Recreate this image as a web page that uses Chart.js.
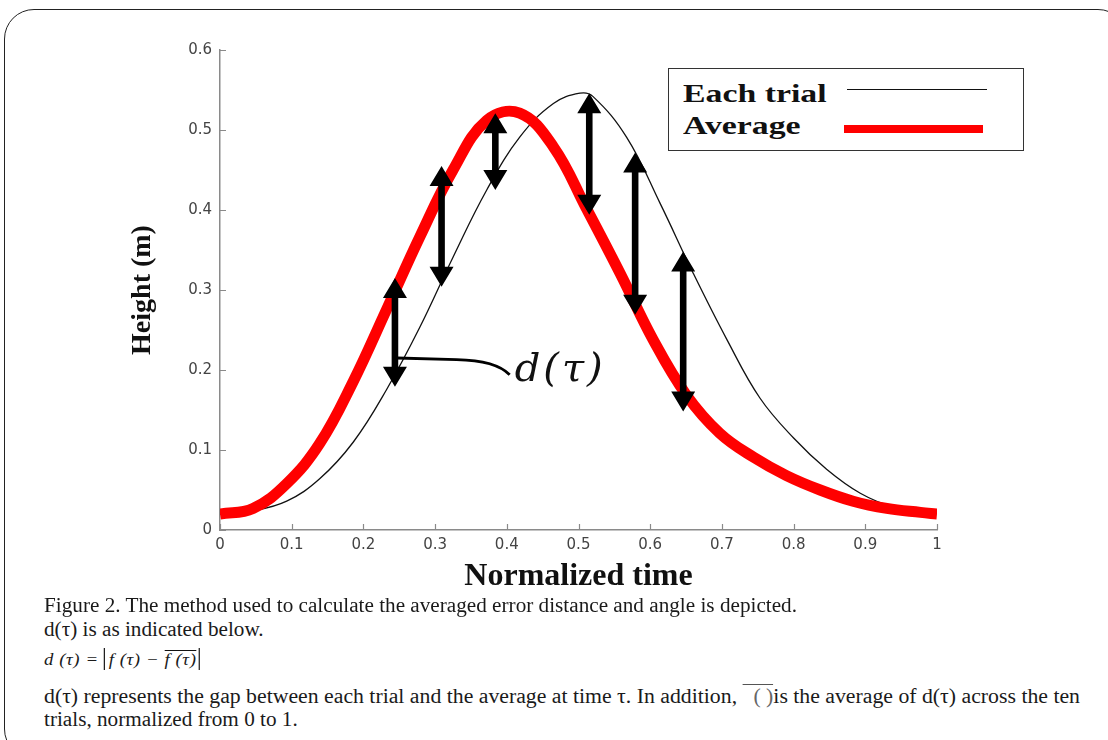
<!DOCTYPE html>
<html>
<head>
<meta charset="utf-8">
<script src="https://cdn.jsdelivr.net/npm/chart.js@4.4.1/dist/chart.umd.min.js"></script>
<style>
html,body{margin:0;padding:0;background:#fff;}
body{width:1108px;height:740px;position:relative;overflow:hidden;font-family:"Liberation Serif",serif;color:#1a1a1a;}
#frame{position:absolute;left:4px;top:9px;width:1124px;height:750px;border:1.4px solid #222;border-radius:30px;box-sizing:border-box;}
#chart{position:absolute;left:0;top:0;}
#legend{position:absolute;left:668px;top:68px;width:356px;height:83px;border:1.5px solid #333;box-sizing:border-box;background:#fff;}
.lg-text{position:absolute;left:14px;font:bold 26px "Liberation Serif",serif;line-height:26px;transform:scaleX(1.3);transform-origin:left center;white-space:nowrap;color:#111;}
.lg-line{position:absolute;}
.cap{position:absolute;left:44px;font-size:20px;line-height:20px;white-space:nowrap;transform-origin:left center;}
.abs{border-left:1.3px solid #111;border-right:1.3px solid #111;padding:3px 2px 2px 3px;}
.ovl{border-top:1px solid #111;}
.ovl2{border-top:1.3px solid #555;color:#666;}
</style>
</head>
<body>
<div id="frame"></div>
<canvas id="chart" width="1108" height="600"></canvas>
<div id="legend"></div>

<div class="cap" data-w="753" style="top:595px">Figure 2. The method used to calculate the averaged error distance and angle is depicted.</div>
<div class="cap" style="top:619px">d(τ) is as indicated below.</div>
<div class="cap" data-w="156" style="top:650px;font-size:16px;font-style:italic;letter-spacing:0.5px">d (τ) = <span class="abs">f (τ) − <span class="ovl">f (τ)</span></span></div>
<div class="cap" data-w="1036" style="top:686px">d(τ) represents the gap between each trial and the average at time τ. In addition, <span class="ovl2">&nbsp;&nbsp;(&nbsp;)</span>is the average of d(τ) across the ten</div>
<div class="cap" style="top:709px">trials, normalized from 0 to 1.</div>

<script>
// 数据：横轴为归一化时间，纵轴为高度 (m)
const avgX   = [0, 0.046, 0.093, 0.139, 0.186, 0.232, 0.279, 0.325, 0.372, 0.418, 0.465, 0.511, 0.558, 0.604, 0.651, 0.697, 0.744, 0.79, 0.837, 0.883, 0.93, 0.977, 1];
const avgY   = [0.020, 0.027, 0.058, 0.108, 0.186, 0.275, 0.367, 0.450, 0.512, 0.521, 0.479, 0.402, 0.321, 0.238, 0.168, 0.121, 0.091, 0.068, 0.050, 0.036, 0.027, 0.022, 0.020];
const trialX = [0, 0.046, 0.093, 0.139, 0.186, 0.232, 0.279, 0.325, 0.372, 0.418, 0.465, 0.502, 0.52, 0.567, 0.614, 0.66, 0.707, 0.753, 0.8, 0.846, 0.893, 0.939, 1];
const trialY = [0.020, 0.024, 0.036, 0.064, 0.110, 0.175, 0.254, 0.341, 0.425, 0.491, 0.533, 0.546, 0.542, 0.491, 0.408, 0.321, 0.238, 0.165, 0.115, 0.076, 0.046, 0.029, 0.021];

// d(τ) 箭头：时间点、上端、下端
const arrowX   = [0.244, 0.309, 0.384, 0.515, 0.579, 0.646];
const arrowTop = [0.315, 0.455, 0.521, 0.546, 0.472, 0.348];
const arrowBot = [0.179, 0.304, 0.425, 0.394, 0.269, 0.148];

const xTickValues = [0, 0.1, 0.2, 0.3, 0.4, 0.5, 0.6, 0.7, 0.8, 0.9, 1];
const xTickLabels = ['0', '0.1', '0.2', '0.3', '0.4', '0.5', '0.6', '0.7', '0.8', '0.9', '1'];
const yTickValues = [0, 0.1, 0.2, 0.3, 0.4, 0.5, 0.6];
const yTickLabels = ['0', '0.1', '0.2', '0.3', '0.4', '0.5', '0.6'];

const xTitle = 'Normalized time';
const yTitle = 'Height (m)';
const seriesNames = ['Average', 'Each trial'];
const dLabel = 'd(τ)';

const toPts = (xs, ys) => xs.map((x, i) => ({x, y: ys[i]}));

// 箭头 + 标注 + 内向刻度
const marksPlugin = {
  id: 'marks',
  afterDatasetsDraw(chart){
    const {ctx, scales:{x, y}} = chart;
    ctx.save();
    ctx.fillStyle = '#000';
    arrowX.forEach((v, i) => {
      const px = x.getPixelForValue(v), t = y.getPixelForValue(arrowTop[i]), b = y.getPixelForValue(arrowBot[i]);
      const hw = 12, hl = 20, sw = 3.3;
      ctx.beginPath();
      ctx.moveTo(px, t); ctx.lineTo(px+hw, t+hl); ctx.lineTo(px+sw, t+hl); ctx.lineTo(px+sw, b-hl);
      ctx.lineTo(px+hw, b-hl); ctx.lineTo(px, b); ctx.lineTo(px-hw, b-hl); ctx.lineTo(px-sw, b-hl);
      ctx.lineTo(px-sw, t+hl); ctx.lineTo(px-hw, t+hl); ctx.closePath(); ctx.fill();
    });
    // 引线 d(τ)
    const p0x = x.getPixelForValue(arrowX[0]) + 2, p0y = y.getPixelForValue(0.215);
    ctx.strokeStyle = '#000'; ctx.lineWidth = 2.8;
    ctx.beginPath();
    ctx.moveTo(p0x, p0y);
    ctx.lineTo(x.getPixelForValue(0.33), y.getPixelForValue(0.213));
    ctx.quadraticCurveTo(x.getPixelForValue(0.385), y.getPixelForValue(0.212), x.getPixelForValue(0.404), y.getPixelForValue(0.194));
    ctx.stroke();
    ctx.font = 'italic 40px "DejaVu Serif", serif';
    ctx.letterSpacing = '3px';
    ctx.textBaseline = 'middle';
    ctx.fillStyle = '#111';
    ctx.fillText(dLabel, x.getPixelForValue(0.411), y.getPixelForValue(0.199));
    ctx.restore();
  },
  afterDraw(chart){
    const {ctx, scales:{x, y}, chartArea:a} = chart;
    ctx.save();
    ctx.strokeStyle = '#8a8a8a'; ctx.lineWidth = 1.2;
    ctx.beginPath();
    xTickValues.forEach(v => { const px = Math.round(x.getPixelForValue(v)) + 0.5; ctx.moveTo(px, a.bottom); ctx.lineTo(px, a.bottom - 6); });
    yTickValues.forEach(v => { const py = Math.round(y.getPixelForValue(v)) + 0.5; ctx.moveTo(a.left, py); ctx.lineTo(a.left + 6, py); });
    ctx.stroke();
    ctx.restore();
  }
};

const chart = new Chart(document.getElementById('chart').getContext('2d'), {
  type: 'scatter',
  data: { datasets: [
    { label: seriesNames[0], data: toPts(avgX, avgY), showLine: true, borderColor: '#ff0000', backgroundColor: '#ff0000', borderWidth: 11, pointRadius: 0, tension: 0.4 },
    { label: seriesNames[1], data: toPts(trialX, trialY), showLine: true, borderColor: '#111', backgroundColor: '#111', borderWidth: 1.3, pointRadius: 0, tension: 0.4 }
  ]},
  options: {
    responsive: false, animation: false, devicePixelRatio: 1,
    layout: { padding: { left: 122, top: 50, right: 171, bottom: 0 } },
    plugins: { legend: { display: false }, tooltip: { enabled: false } },
    scales: {
      x: {
        type: 'linear', min: 0, max: 1,
        afterBuildTicks: s => { s.ticks = xTickValues.map(v => ({value: v})); },
        afterFit: s => { s.height = 70; },
        ticks: { callback: (v, i) => xTickLabels[i], color: '#444', font: {family: 'DejaVu Sans', size: 15}, padding: 6, maxRotation: 0, autoSkip: false },
        grid: { display: false, drawTicks: false },
        border: { color: '#8a8a8a', width: 1.5 },
        title: { display: true, text: xTitle, color: '#111', font: {family: 'Liberation Serif', size: 32, weight: 'bold'}, padding: {top: 0, bottom: 4} }
      },
      y: {
        type: 'linear', min: 0, max: 0.6,
        afterBuildTicks: s => { s.ticks = yTickValues.map(v => ({value: v})); },
        afterFit: s => { s.width = 98; },
        ticks: { callback: (v, i) => yTickLabels[i], color: '#444', font: {family: 'DejaVu Sans', size: 15}, padding: 8, autoSkip: false },
        grid: { display: false, drawTicks: false },
        border: { color: '#8a8a8a', width: 1.5 },
        title: { display: true, text: yTitle, color: '#111', font: {family: 'Liberation Serif', size: 28, weight: 'bold'}, padding: {top: 4, bottom: 0} }
      }
    }
  },
  plugins: [marksPlugin]
});

// 图例（框内）
const legend = document.getElementById('legend');
const lgRows = [
  { ds: chart.data.datasets[1], textTop: 11.5, lineLeft: 177.5, lineW: 140, lineTop: 19.5, lineH: 1.5 },
  { ds: chart.data.datasets[0], textTop: 43.5, lineLeft: 174.5, lineW: 139, lineTop: 55.5, lineH: 8 }
];
lgRows.forEach(r => {
  const t = document.createElement('div');
  t.className = 'lg-text'; t.style.top = r.textTop + 'px'; t.textContent = r.ds.label;
  legend.appendChild(t);
  const l = document.createElement('div');
  l.className = 'lg-line';
  Object.assign(l.style, { left: r.lineLeft + 'px', top: r.lineTop + 'px', width: r.lineW + 'px', height: r.lineH + 'px', background: r.ds.borderColor });
  legend.appendChild(l);
});

// 说明文字宽度对齐
const caps = document.querySelectorAll('.cap');
const k = 753 / caps[0].getBoundingClientRect().width;
caps.forEach(c => {
  const w = c.dataset.w ? +c.dataset.w / c.getBoundingClientRect().width : k;
  c.style.transform = 'scaleX(' + w + ')';
});
</script>
</body>
</html>
